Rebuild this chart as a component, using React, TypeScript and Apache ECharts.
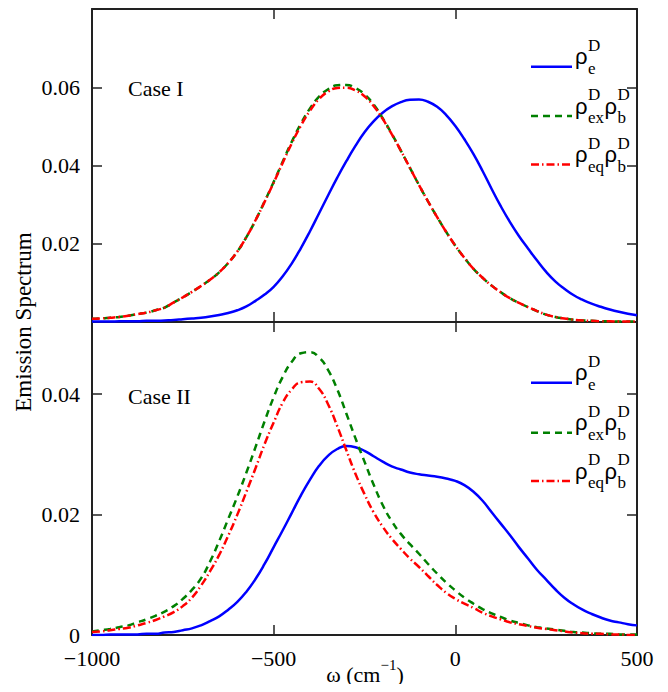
import React, { useEffect, useRef } from 'react';
import * as echarts from 'echarts';

// ω (cm^-1) sample positions
const omega = [
  -1000, -975, -950, -925, -900, -875, -850, -825, -800, -775,
  -750, -725, -700, -675, -650, -625, -600, -575, -550, -525,
  -500, -475, -450, -425, -400, -375, -350, -325, -300, -275,
  -250, -225, -200, -175, -150, -125, -100, -75, -50, -25,
  0, 25, 50, 75, 100, 125, 150, 175, 200, 225,
  250, 275, 300, 325, 350, 375, 400, 425, 450, 475,
  500,
];

// Case I
const caseI_e = [
  0.0001, 0.0001, 0.0001, 0.0002, 0.0002, 0.0002, 0.0003, 0.0003, 0.0004, 0.0005,
  0.0007, 0.0009, 0.0011, 0.0014, 0.0018, 0.0023, 0.0030, 0.0040, 0.0054, 0.0070,
  0.0090, 0.0117, 0.0150, 0.0189, 0.0232, 0.0278, 0.0324, 0.0369, 0.0411, 0.0450,
  0.0485, 0.0513, 0.0535, 0.0551, 0.0562, 0.0568, 0.0569, 0.0563, 0.0550, 0.0529,
  0.0501, 0.0467, 0.0429, 0.0386, 0.0340, 0.0296, 0.0256, 0.0220, 0.0188, 0.0157,
  0.0128, 0.0104, 0.0085, 0.0069, 0.0057, 0.0047, 0.0039, 0.0032, 0.0026, 0.0021,
  0.0017,
];
const caseI_ex = [
  0.0008, 0.0009, 0.0011, 0.0013, 0.0016, 0.0020, 0.0024, 0.0030, 0.0037, 0.0050,
  0.0063, 0.0077, 0.0092, 0.0108, 0.0127, 0.0151, 0.0180, 0.0217, 0.0260, 0.0308,
  0.0358, 0.0410, 0.0461, 0.0507, 0.0546, 0.0576, 0.0595, 0.0605, 0.0606, 0.0598,
  0.0582, 0.0556, 0.0521, 0.0481, 0.0438, 0.0394, 0.0350, 0.0308, 0.0268, 0.0230,
  0.0195, 0.0164, 0.0136, 0.0113, 0.0093, 0.0076, 0.0061, 0.0049, 0.0038, 0.0028,
  0.0019, 0.0013, 0.0009, 0.0006, 0.0004, 0.0003, 0.0002, 0.0002, 0.0001, 0.0001,
  0.0001,
];
const caseI_eq = [
  0.0008, 0.0009, 0.0011, 0.0013, 0.0016, 0.0020, 0.0024, 0.0030, 0.0037, 0.0050,
  0.0063, 0.0077, 0.0092, 0.0108, 0.0127, 0.0151, 0.0180, 0.0217, 0.0260, 0.0307,
  0.0356, 0.0407, 0.0457, 0.0502, 0.0540, 0.0570, 0.0589, 0.0598, 0.0599, 0.0592,
  0.0577, 0.0552, 0.0519, 0.0480, 0.0438, 0.0394, 0.0350, 0.0308, 0.0268, 0.0230,
  0.0195, 0.0164, 0.0136, 0.0113, 0.0093, 0.0076, 0.0061, 0.0049, 0.0038, 0.0028,
  0.0019, 0.0013, 0.0009, 0.0006, 0.0004, 0.0003, 0.0002, 0.0002, 0.0001, 0.0001,
  0.0001,
];

// Case II
const caseII_e = [
  0.0000, 0.0000, 0.0001, 0.0001, 0.0001, 0.0001, 0.0002, 0.0002, 0.0004, 0.0005,
  0.0008, 0.0011, 0.0016, 0.0023, 0.0031, 0.0042, 0.0055, 0.0072, 0.0093, 0.0118,
  0.0146, 0.0174, 0.0203, 0.0232, 0.0258, 0.0281, 0.0298, 0.0309, 0.0314, 0.0312,
  0.0306, 0.0297, 0.0288, 0.0280, 0.0275, 0.0270, 0.0267, 0.0265, 0.0263, 0.0260,
  0.0256, 0.0249, 0.0238, 0.0223, 0.0204, 0.0185, 0.0166, 0.0146, 0.0127, 0.0108,
  0.0092, 0.0076, 0.0062, 0.0051, 0.0042, 0.0035, 0.0029, 0.0024, 0.0021, 0.0018,
  0.0016,
];
const caseII_ex = [
  0.0006, 0.0008, 0.0010, 0.0013, 0.0016, 0.0021, 0.0026, 0.0032, 0.0039, 0.0048,
  0.0060, 0.0075, 0.0094, 0.0122, 0.0156, 0.0193, 0.0230, 0.0270, 0.0312, 0.0355,
  0.0395, 0.0429, 0.0454, 0.0468, 0.0470, 0.0461, 0.0440, 0.0408, 0.0368, 0.0327,
  0.0288, 0.0250, 0.0216, 0.0189, 0.0168, 0.0151, 0.0135, 0.0118, 0.0102, 0.0087,
  0.0074, 0.0062, 0.0052, 0.0043, 0.0036, 0.0030, 0.0024, 0.0020, 0.0016, 0.0013,
  0.0011, 0.0009, 0.0007, 0.0005, 0.0004, 0.0003, 0.0002, 0.0002, 0.0001, 0.0001,
  0.0001,
];
const caseII_eq = [
  0.0005, 0.0006, 0.0008, 0.0010, 0.0012, 0.0016, 0.0020, 0.0025, 0.0031, 0.0038,
  0.0048, 0.0062, 0.0082, 0.0106, 0.0133, 0.0165, 0.0200, 0.0238, 0.0277, 0.0317,
  0.0353, 0.0386, 0.0408, 0.0420, 0.0421, 0.0409, 0.0383, 0.0347, 0.0307, 0.0268,
  0.0234, 0.0204, 0.0180, 0.0160, 0.0143, 0.0127, 0.0113, 0.0098, 0.0083, 0.0070,
  0.0060, 0.0052, 0.0045, 0.0037, 0.0031, 0.0026, 0.0021, 0.0018, 0.0015, 0.0012,
  0.0010, 0.0008, 0.0006, 0.0004, 0.0003, 0.0002, 0.0002, 0.0001, 0.0001, 0.0000,
  0.0000,
];

// Tick labels
const xTickLabels = [-1000, -500, 0, 500];
const yTickLabelsCaseI = [0.02, 0.04, 0.06];
const yTickLabelsCaseII = [0, 0.02, 0.04];
const caseNames = ['Case I', 'Case II'];
const legendSubs = [['e'], ['ex', 'b'], ['eq', 'b']];
const yAxisTitle = 'Emission Spectrum';

const W = 668;
const H = 692;
const LEFT = 92;
const RIGHT = 637;
const TOP = 9;
const MID = 322;
const BOTTOM = 635;

const SERIF_NAME = 'Liberation Serif';
const SERIF = 'Liberation Serif, serif';
const SANS = 'Liberation Sans, sans-serif';
const AXIS_COLOR = '#222';

const COLORS = ['#0000ff', '#008000', '#ff0000'];
const DASHES: any[] = ['solid', [7, 5], [8, 3, 1.5, 3]];

function measure(text: string, font: string): number {
  const c = document.createElement('canvas').getContext('2d');
  if (!c) return text.length * 8;
  c.font = font;
  return c.measureText(text).width;
}

function txt(x: number, y: number, text: string, font: string, align = 'left', extra: any = {}) {
  return {
    type: 'text',
    x,
    y,
    silent: true,
    ...extra,
    style: {
      text,
      font,
      fill: '#000',
      align,
      verticalAlign: 'middle',
      textAlign: align,
      textVerticalAlign: 'middle',
    },
  };
}

function legendRows(lineYs: number[]) {
  const els: any[] = [];
  const rhoFont = `22px ${SANS}`;
  const smallFont = `17px ${SERIF}`;
  lineYs.forEach((L, i) => {
    els.push({
      type: 'line',
      silent: true,
      shape: { x1: 531, y1: L, x2: 572, y2: L },
      style: { stroke: COLORS[i], lineWidth: 2.5, lineDash: DASHES[i] === 'solid' ? null : DASHES[i] },
    });
    let x = 575;
    legendSubs[i].forEach((sub) => {
      els.push(txt(x, L - 10, 'ρ', rhoFont));
      const x2 = x + measure('ρ', rhoFont) + 0.5;
      els.push(txt(x2, L - 21.5, 'D', smallFont));
      els.push(txt(x2, L + 1.5, sub, smallFont));
      x = x2 + Math.max(measure('D', smallFont), measure(sub, smallFont)) + 0.5;
    });
  });
  return els;
}

function axisTitleX() {
  const big = `22px ${SERIF}`;
  const small = `15px ${SERIF}`;
  const a = 'ω (cm';
  const s = '−1';
  const b = ')';
  const wa = measure(a, big);
  const ws = measure(s, small);
  const wb = measure(b, big);
  const total = wa + ws + wb;
  const x0 = 365 - total / 2;
  const y = 674;
  return [
    txt(x0, y, a, big),
    txt(x0 + wa, y - 9, s, small),
    txt(x0 + wa + ws, y, b, big),
  ];
}

const fmtX = (v: number) => {
  if (!xTickLabels.includes(v)) return '';
  return v < 0 ? '−' + Math.abs(v) : String(v);
};

const makeFmtY = (list: number[]) => (v: number) => {
  const hit = list.find((t) => Math.abs(t - v) < 1e-9);
  if (hit === undefined) return '';
  return String(hit);
};

export default function App() {
  const ref = useRef<HTMLDivElement>(null);
  useEffect(() => {
    if (!ref.current) return;
    const chart = echarts.init(ref.current, null, { renderer: 'svg' });

    const axisLine = { show: true, onZero: false, lineStyle: { color: AXIS_COLOR, width: 2 } };
    const axisTick = { show: true, inside: true, length: 10, lineStyle: { color: AXIS_COLOR, width: 1.5 } };
    const labelStyle = { color: '#000', fontFamily: SERIF_NAME, fontSize: 22 };

    const xBase = (gridIndex: number, position: string, showLabel: boolean) => ({
      type: 'value',
      gridIndex,
      position,
      min: -1000,
      max: 500,
      interval: 500,
      axisLine,
      axisTick,
      splitLine: { show: false },
      axisLabel: { show: showLabel, formatter: fmtX, margin: 12, ...labelStyle },
    });

    const yBase = (gridIndex: number, position: string, max: number, labels: number[] | null) => ({
      type: 'value',
      gridIndex,
      position,
      min: 0,
      max,
      interval: 0.02,
      axisLine,
      axisTick,
      splitLine: { show: false },
      axisLabel: labels
        ? { show: true, formatter: makeFmtY(labels), margin: 12, showMinLabel: true, showMaxLabel: true, ...labelStyle }
        : { show: false },
    });

    const mk = (name: string, data: number[], idx: number, colorIdx: number) => ({
      type: 'line',
      name,
      xAxisIndex: idx === 0 ? 0 : 2,
      yAxisIndex: idx === 0 ? 0 : 2,
      data: omega.map((x, i) => [x, data[i]]),
      showSymbol: false,
      smooth: 0.5,
      silent: true,
      z: 2 + colorIdx,
      lineStyle: {
        color: COLORS[colorIdx],
        width: 2.5,
        type: DASHES[colorIdx],
      },
    });

    const option: any = {
      animation: false,
      backgroundColor: '#fff',
      grid: [
        { left: LEFT, top: TOP, width: RIGHT - LEFT, height: MID - TOP, containLabel: false },
        { left: LEFT, top: MID, width: RIGHT - LEFT, height: BOTTOM - MID, containLabel: false },
      ],
      xAxis: [
        xBase(0, 'bottom', false),
        xBase(0, 'top', false),
        xBase(1, 'bottom', true),
        xBase(1, 'top', false),
      ],
      yAxis: [
        yBase(0, 'left', 0.08, yTickLabelsCaseI),
        yBase(0, 'right', 0.08, null),
        yBase(1, 'left', 0.052, yTickLabelsCaseII),
        yBase(1, 'right', 0.052, null),
      ],
      series: [
        mk('ρe D (Case I)', caseI_e, 0, 0),
        mk('ρex D ρb D (Case I)', caseI_ex, 0, 1),
        mk('ρeq D ρb D (Case I)', caseI_eq, 0, 2),
        mk('ρe D (Case II)', caseII_e, 1, 0),
        mk('ρex D ρb D (Case II)', caseII_ex, 1, 1),
        mk('ρeq D ρb D (Case II)', caseII_eq, 1, 2),
      ],
      graphic: [
        txt(128, 88, caseNames[0], `22px ${SERIF}`),
        txt(128, 396, caseNames[1], `22px ${SERIF}`),
        txt(23, (TOP + BOTTOM) / 2, yAxisTitle, `23px ${SERIF}`, 'center', { rotation: Math.PI / 2 }),
        ...axisTitleX(),
        ...legendRows([66.7, 116, 164.5]),
        ...legendRows([382.7, 432.7, 481]),
      ],
    };

    chart.setOption(option);
    return () => chart.dispose();
  }, []);

  return <div ref={ref} style={{ width: W, height: H, margin: -8 }} />;
}
